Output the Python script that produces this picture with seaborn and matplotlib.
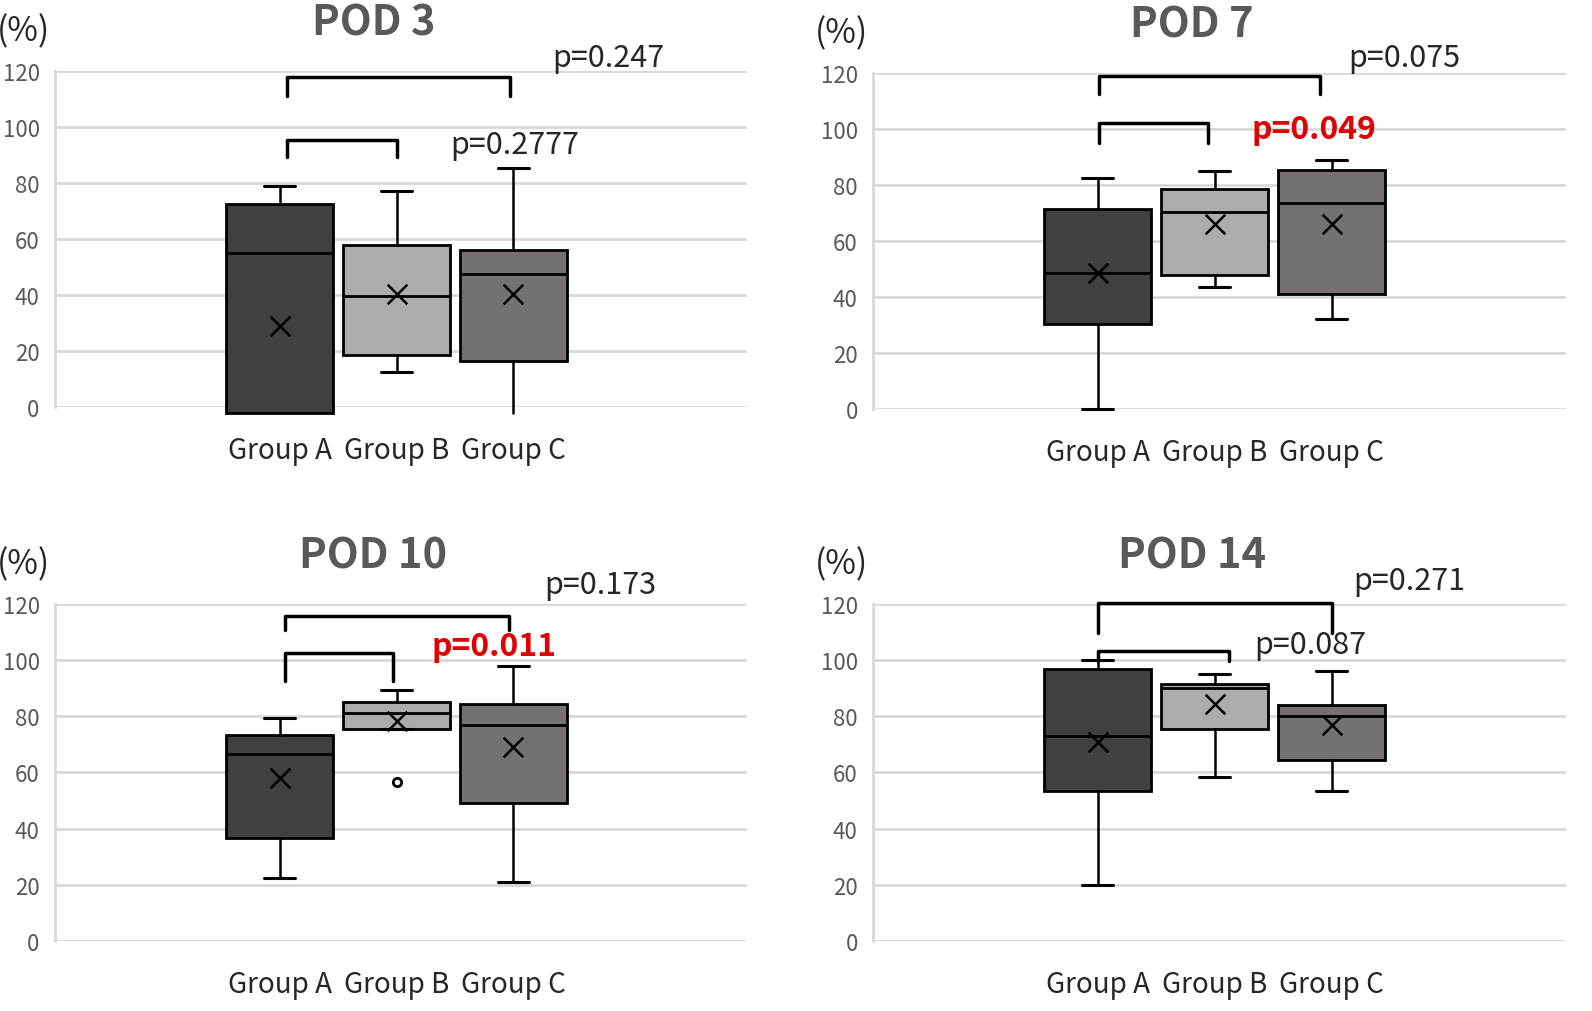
import matplotlib
matplotlib.use("Agg")
import matplotlib.pyplot as plt
import seaborn as sns

# data (percent)
groups = ["Group A", "Group B", "Group C"]
panels = ["POD 3", "POD 7", "POD 10", "POD 14"]

# per panel: [A, B, C]
whislo = [[-2, 12.5, -2], [0, 43.5, 32], [22.5, 75.5, 21], [20, 58.5, 53.5]]
q1 = [[-2, 18.5, 16.5], [30.5, 48, 41], [36.5, 75.5, 49], [53.5, 75.5, 64.5]]
med = [[55, 39.5, 47.5], [48.5, 70.5, 73.5], [66.5, 81, 77], [73, 90, 80]]
q3 = [[72.5, 58, 56], [71.5, 78.5, 85.5], [73.5, 85, 84.5], [97, 91.5, 84]]
whishi = [[79, 77, 85.5], [82.5, 85, 89], [79.5, 89.5, 98], [100, 95, 96]]
means = [[29, 40.5, 40.5], [48.5, 66, 66], [58, 78.5, 69], [71, 84.5, 77]]
outliers = [[[], [], []], [[], [], []], [[], [56.5], []], [[], [], []]]

# p-values: (A vs C, A vs B)
p_ac = ["p=0.247", "p=0.075", "p=0.173", "p=0.271"]
p_ab = ["p=0.2777", "p=0.049", "p=0.011", "p=0.087"]
p_ab_sig = [False, True, True, False]

box_colors = ["#404040", "#AEABAB", "#767171"]

sns.set_style("white")
plt.rcParams['font.family'] = ['Noto Sans CJK JP', 'DejaVu Sans']

fig = plt.figure(figsize=(15.92, 10.12), dpi=100)
axes_pos = [
    [0.0345, 0.5968, 0.435, 0.332],
    [0.5484, 0.5949, 0.435, 0.332],
    [0.0345, 0.0692, 0.435, 0.333],
    [0.5484, 0.0692, 0.435, 0.333],
]

# bracket / label placement per panel (data coords)
big_br = [(0.06, 1.97, 117.9, 111), (0.01, 1.9, 118.9, 112.5),
          (0.05, 1.96, 115.7, 110.7), (0.0, 2.0, 120.4, 109.7)]
small_br = [(0.06, 1.0, 95.4, 89.3), (0.01, 0.94, 102, 95),
            (0.05, 0.97, 102.6, 92.6), (0.0, 1.12, 103.3, 99.6)]
ac_txt = [(2.81, 125), (2.62, 125.4), (2.74, 127.1), (2.66, 128.5)]
ab_txt = [(2.01, 93.9), (1.85, 99.9), (1.83, 105), (1.82, 105.7)]

for i, name in enumerate(panels):
    ax = fig.add_axes(axes_pos[i])
    stats = []
    for j, g in enumerate(groups):
        stats.append(dict(label=g, whislo=whislo[i][j], q1=q1[i][j], med=med[i][j],
                          q3=q3[i][j], whishi=whishi[i][j], mean=means[i][j],
                          fliers=outliers[i][j]))
    art = ax.bxp(stats, positions=[0, 1, 2], widths=0.91, patch_artist=True,
                 showmeans=False, showfliers=True,
                 boxprops=dict(edgecolor="black", linewidth=2),
                 medianprops=dict(color="black", linewidth=2),
                 whiskerprops=dict(color="black", linewidth=1.8),
                 capprops=dict(color="black", linewidth=2.2),
                 capwidths=0.27,
                 flierprops=dict(marker="o", markersize=6, markerfacecolor="white",
                                 markeredgecolor="black", markeredgewidth=2))
    for patch, c in zip(art["boxes"], box_colors):
        patch.set_facecolor(c)
    for key in art:
        for a in art[key]:
            a.set_clip_on(False)
            a.set_zorder(3)
    # no cap drawn where the whisker runs below the axis
    for cap in art["caps"]:
        if min(cap.get_ydata()) < 0:
            cap.set_visible(False)

    sns.scatterplot(x=[0, 1, 2], y=means[i], marker="x", s=200, color="black",
                    linewidth=1.8, ax=ax, zorder=4, clip_on=False)

    ax.set_xlim(-1.92, 4.0)
    ax.set_ylim(0, 120)
    ax.set_yticks(range(0, 121, 20))
    ax.yaxis.grid(True, color="#D9D9D9", linewidth=2)
    ax.set_axisbelow(True)
    for s in ["top", "right", "bottom"]:
        ax.spines[s].set_visible(False)
    ax.spines["left"].set_color("#D9D9D9")
    ax.spines["left"].set_linewidth(2)
    ax.tick_params(axis="y", length=0, pad=11, labelsize=16, labelcolor="#595959")
    ax.tick_params(axis="x", length=0, pad=20, labelsize=20)
    ax.set_xticks([0, 1, 2])
    ax.set_xticklabels(groups)

    ax.set_title(name, fontsize=30, fontweight="bold", color="#595959", pad=26,
                 x=0.46)
    ax.text(-0.045, 1.12, "(%)", transform=ax.transAxes, fontsize=24,
            ha="center", va="center")

    x0, x1, ytop, yleg = big_br[i]
    ax.plot([x0, x0, x1, x1], [yleg, ytop, ytop, yleg], color="black", lw=2.5,
            clip_on=False)
    x0, x1, ytop, yleg = small_br[i]
    ax.plot([x0, x0, x1, x1], [yleg, ytop, ytop, yleg], color="black", lw=2.5,
            clip_on=False)

    ax.text(ac_txt[i][0], ac_txt[i][1], p_ac[i], fontsize=22, ha="center", va="center")
    if p_ab_sig[i]:
        ax.text(ab_txt[i][0], ab_txt[i][1], p_ab[i], fontsize=23, ha="center",
                va="center", color="#E00000", fontweight="bold")
    else:
        ax.text(ab_txt[i][0], ab_txt[i][1], p_ab[i], fontsize=22, ha="center",
                va="center")
    ax.set_xlabel("")
    ax.set_ylabel("")

fig.savefig("out.png", dpi=100)
